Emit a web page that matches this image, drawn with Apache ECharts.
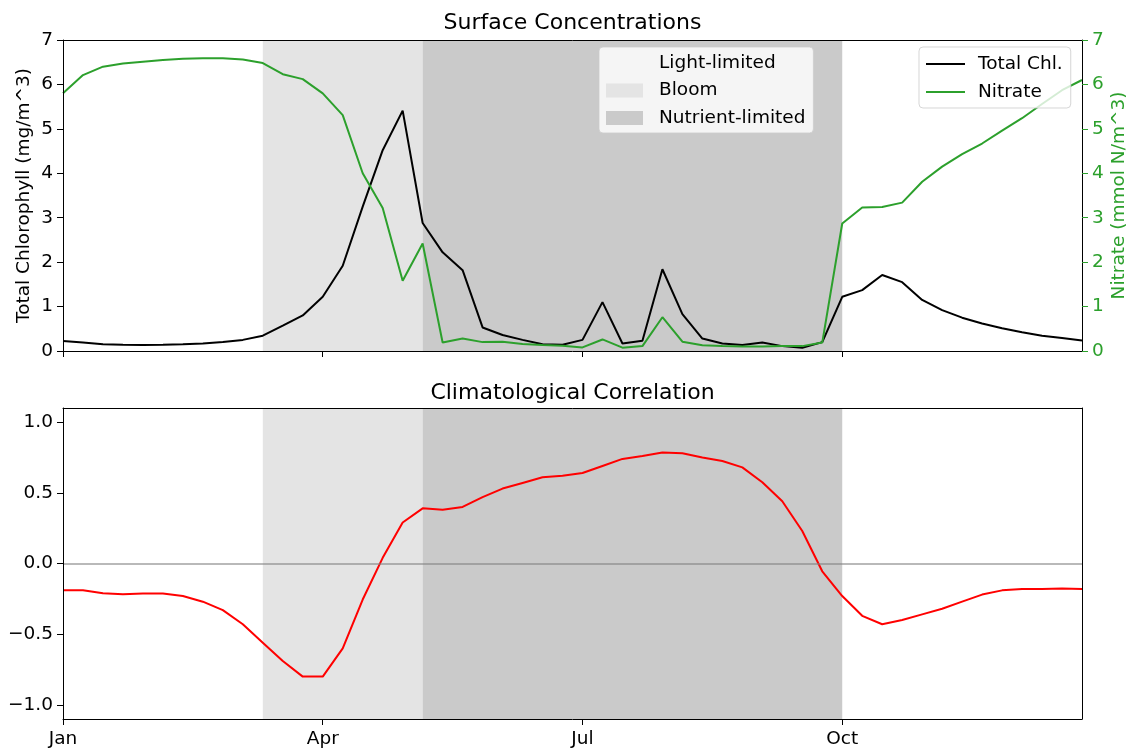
<!DOCTYPE html>
<html>
<head>
<meta charset="utf-8">
<script src="https://cdn.jsdelivr.net/npm/echarts@6/dist/echarts.min.js"></script>
<style>
  html, body { margin: 0; padding: 0; background: #ffffff; }
  #chart { width: 1128px; height: 749px; }
</style>
</head>
<body>
<div id="chart"></div>
<script>
// Weekly climatology: index 0..51 = week of the year
const monthTicks = [0, 13, 26, 39];
const monthLabels = ['Jan', 'Apr', 'Jul', 'Oct'];

// Phase boundaries (week index)
const bloomStart = 10;
const nutrientStart = 18;
const nutrientEnd = 39;

// Surface total chlorophyll (mg/m^3)
const totalChl = [
  0.225, 0.19, 0.15, 0.14, 0.135, 0.14, 0.15, 0.17, 0.20, 0.25,
  0.345, 0.57, 0.80, 1.22, 1.92, 3.25, 4.52, 5.41, 2.88, 2.22,
  1.82, 0.53, 0.36, 0.25, 0.15, 0.14, 0.25, 1.10, 0.17, 0.23,
  1.84, 0.83, 0.28, 0.17, 0.135, 0.19, 0.11, 0.075, 0.20, 1.22,
  1.37, 1.71, 1.55, 1.15, 0.92, 0.75, 0.62, 0.51, 0.42, 0.345,
  0.29, 0.235
];

// Surface nitrate (mmol N/m^3)
const nitrate = [
  5.80, 6.21, 6.40, 6.47, 6.51, 6.55, 6.58, 6.59, 6.59, 6.56,
  6.48, 6.23, 6.12, 5.80, 5.31, 4.00, 3.22, 1.58, 2.42, 0.19,
  0.28, 0.20, 0.21, 0.16, 0.135, 0.12, 0.08, 0.26, 0.075, 0.11,
  0.76, 0.21, 0.13, 0.11, 0.10, 0.10, 0.11, 0.11, 0.19, 2.87,
  3.23, 3.24, 3.34, 3.81, 4.15, 4.43, 4.67, 4.96, 5.24, 5.56,
  5.87, 6.10
];

// Climatological correlation between chlorophyll and nitrate
const correlation = [
  -0.19, -0.19, -0.21, -0.217, -0.213, -0.213, -0.23, -0.27, -0.33, -0.43,
  -0.56, -0.69, -0.80, -0.80, -0.60, -0.255, 0.04, 0.29, 0.39, 0.38,
  0.40, 0.47, 0.53, 0.57, 0.61, 0.62, 0.64, 0.69, 0.74, 0.76,
  0.785, 0.78, 0.75, 0.725, 0.68, 0.575, 0.44, 0.23, -0.055, -0.23,
  -0.37, -0.43, -0.40, -0.36, -0.32, -0.27, -0.22, -0.19, -0.18, -0.18,
  -0.177, -0.18
];

const corrTicks = [-1.0, -0.5, 0.0, 0.5, 1.0];

const FONT = 'DejaVu Sans';
const FS = 18.5;
const GREEN = '#2ca02c';
const LIGHT_SHADE = '#e4e4e4';
const DARK_SHADE = '#cacaca';
const LIGHT_LIMITED = 'rgba(255,255,255,0)';

const toPairs = arr => arr.map((v, i) => [i, v]);

const spine = { show: true, onZero: false, lineStyle: { color: '#000', width: 1 } };

function frameAxisX(gridIndex, position) {
  return {
    type: 'value', gridIndex, position, min: 0, max: 51, z: 10,
    axisLine: spine,
    axisTick: { show: false }, axisLabel: { show: false }, splitLine: { show: false }
  };
}

function phaseSeries(name, xi, yi, from, to, color) {
  const s = {
    type: 'line', xAxisIndex: xi, yAxisIndex: yi, data: [], z: 1,
    silent: true, symbol: 'none',
    itemStyle: { color },
    markArea: {
      silent: true,
      itemStyle: { color, opacity: 1 },
      data: [[{ xAxis: from }, { xAxis: to }]]
    }
  };
  if (name) s.name = name;
  return s;
}

const chart = echarts.init(document.getElementById('chart'), null, { renderer: 'canvas' });

const option = {
  animation: false,
  backgroundColor: '#ffffff',
  textStyle: { fontFamily: FONT },
  title: [
    { text: 'Surface Concentrations', left: 572.5, textAlign: 'center', top: 12, padding: 0,
      textStyle: { fontFamily: FONT, fontSize: 22, fontWeight: 'normal', color: '#000' } },
    { text: 'Climatological Correlation', left: 572.5, textAlign: 'center', top: 382, padding: 0,
      textStyle: { fontFamily: FONT, fontSize: 22, fontWeight: 'normal', color: '#000' } }
  ],
  grid: [
    { left: 63, top: 40, width: 1019, height: 311, outerBoundsMode: 'none', containLabel: false },
    { left: 63, top: 408, width: 1019, height: 311, outerBoundsMode: 'none', containLabel: false }
  ],
  legend: [
    {
      orient: 'vertical', left: 599, top: 47, selectedMode: false,
      padding: [6, 8, 5, 7], itemGap: 7.5, itemWidth: 37, itemHeight: 14,
      backgroundColor: 'rgba(255,255,255,0.8)', borderColor: 'rgba(204,204,204,0.8)',
      borderWidth: 1, borderRadius: 4,
      textStyle: { fontFamily: FONT, fontSize: FS, color: '#000', lineHeight: 20, padding: [0, 0, 0, 11] },
      data: [
        { name: 'Light-limited', icon: 'rect', itemStyle: { color: LIGHT_LIMITED } },
        { name: 'Bloom', icon: 'rect', itemStyle: { color: LIGHT_SHADE } },
        { name: 'Nutrient-limited', icon: 'rect', itemStyle: { color: DARK_SHADE } }
      ]
    },
    {
      orient: 'vertical', left: 919, top: 47, selectedMode: false,
      padding: [7, 8, 6, 7], itemGap: 8, itemWidth: 39, itemHeight: 2,
      backgroundColor: 'rgba(255,255,255,0.8)', borderColor: 'rgba(204,204,204,0.8)',
      borderWidth: 1, borderRadius: 4,
      textStyle: { fontFamily: FONT, fontSize: FS, color: '#000', lineHeight: 20, padding: [0, 0, 0, 8] },
      data: [
        { name: 'Total Chl.', icon: 'rect', itemStyle: { color: '#000' } },
        { name: 'Nitrate', icon: 'rect', itemStyle: { color: GREEN } }
      ]
    }
  ],
  xAxis: [
    {
      type: 'value', gridIndex: 0, position: 'bottom', min: 0, max: 51, z: 10,
      axisLine: spine,
      axisTick: { show: true, customValues: monthTicks, length: 6, lineStyle: { color: '#000', width: 1 } },
      axisLabel: { show: false },
      splitLine: { show: false }
    },
    frameAxisX(0, 'top'),
    {
      type: 'value', gridIndex: 1, position: 'bottom', min: 0, max: 51, z: 10,
      axisLine: spine,
      axisTick: { show: true, customValues: monthTicks, length: 6, lineStyle: { color: '#000', width: 1 } },
      axisLabel: {
        show: true, customValues: monthTicks, margin: 11,
        fontFamily: FONT, fontSize: FS, color: '#000',
        formatter: v => monthLabels[monthTicks.indexOf(Math.round(v))] || ''
      },
      splitLine: { show: false }
    },
    frameAxisX(1, 'top')
  ],
  yAxis: [
    {
      type: 'value', gridIndex: 0, position: 'left', min: 0, max: 7, interval: 1, z: 10,
      name: 'Total Chlorophyll (mg/m^3)', nameLocation: 'middle', nameGap: 29, nameRotate: 90,
      nameMoveOverlap: false,
      nameTextStyle: { fontFamily: FONT, fontSize: FS, color: '#000' },
      axisLine: spine,
      axisTick: { show: true, length: 6, lineStyle: { color: '#000', width: 1 } },
      axisLabel: { margin: 10, fontFamily: FONT, fontSize: FS, color: '#000' },
      splitLine: { show: false }
    },
    {
      type: 'value', gridIndex: 0, position: 'right', min: 0, max: 7, interval: 1, z: 10,
      name: 'Nitrate (mmol N/m^3)', nameLocation: 'middle', nameGap: 28, nameRotate: 90,
      nameMoveOverlap: false,
      nameTextStyle: { fontFamily: FONT, fontSize: FS, color: GREEN },
      axisLine: spine,
      axisTick: { show: true, length: 6, lineStyle: { color: GREEN, width: 1 } },
      axisLabel: { margin: 10, fontFamily: FONT, fontSize: FS, color: GREEN },
      splitLine: { show: false }
    },
    {
      type: 'value', gridIndex: 1, position: 'left', min: -1.1, max: 1.1, z: 10,
      axisLine: spine,
      axisTick: { show: true, customValues: corrTicks, length: 6, lineStyle: { color: '#000', width: 1 } },
      axisLabel: {
        show: true, customValues: corrTicks, margin: 10,
        fontFamily: FONT, fontSize: FS, color: '#000',
        formatter: v => (v < 0 ? '\u2212' : '') + Math.abs(v).toFixed(1)
      },
      splitLine: { show: false }
    },
    {
      type: 'value', gridIndex: 1, position: 'right', min: -1.1, max: 1.1, z: 10,
      axisLine: spine,
      axisTick: { show: false }, axisLabel: { show: false }, splitLine: { show: false }
    }
  ],
  series: [
    // Seasonal phases, upper panel
    phaseSeries('Light-limited', 0, 0, 0, bloomStart, LIGHT_LIMITED),
    phaseSeries('Bloom', 0, 0, bloomStart, nutrientStart, LIGHT_SHADE),
    phaseSeries('Nutrient-limited', 0, 0, nutrientStart, nutrientEnd, DARK_SHADE),
    // Seasonal phases, lower panel
    phaseSeries(null, 2, 2, bloomStart, nutrientStart, LIGHT_SHADE),
    phaseSeries(null, 2, 2, nutrientStart, nutrientEnd, DARK_SHADE),
    {
      name: 'Total Chl.', type: 'line', xAxisIndex: 0, yAxisIndex: 0, z: 3,
      data: toPairs(totalChl), symbol: 'none', showSymbol: false,
      lineStyle: { color: '#000', width: 2 }, itemStyle: { color: '#000' }
    },
    {
      name: 'Nitrate', type: 'line', xAxisIndex: 0, yAxisIndex: 1, z: 3,
      data: toPairs(nitrate), symbol: 'none', showSymbol: false,
      lineStyle: { color: GREEN, width: 2 }, itemStyle: { color: GREEN }
    },
    {
      name: 'Correlation', type: 'line', xAxisIndex: 2, yAxisIndex: 2, z: 3,
      data: toPairs(correlation), symbol: 'none', showSymbol: false,
      lineStyle: { color: '#ff0000', width: 2 }, itemStyle: { color: '#ff0000' },
      markLine: {
        silent: true, symbol: ['none', 'none'], label: { show: false },
        lineStyle: { color: 'rgba(128,128,128,0.55)', width: 2, type: 'solid' },
        data: [{ yAxis: 0 }]
      }
    }
  ]
};

chart.setOption(option);
</script>
</body>
</html>
